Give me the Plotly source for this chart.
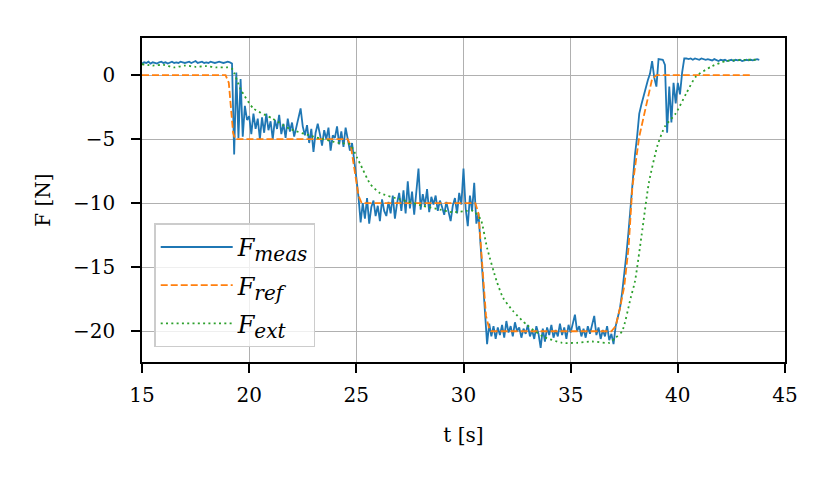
import plotly.graph_objects as go

# ---- data ----
t0_meas = 15.0
dt_meas = 0.1
f_meas_rows = [
    [0.9, 1.0, 0.95, 1.05, 0.9, 1.0, 0.95, 0.9, 1.0, 1.05],          # 15
    [0.95, 1.0, 0.9, 1.0, 1.05, 0.95, 1.0, 0.95, 1.05, 1.0],         # 16
    [0.95, 1.0, 1.05, 0.95, 1.0, 1.1, 0.95, 1.0, 1.05, 0.95],        # 17
    [1.0, 0.95, 1.05, 1.0, 0.95, 1.0, 1.05, 1.0, 0.95, 1.0],         # 18
    [1.05, 1.0, 0.9, -6.2, 0.2, -4.9, -0.3, -4.8, -2.4, -3.5],       # 19
    [-3.2, -4.6, -3.0, -4.2, -3.4, -5.0, -3.3, -4.5, -3.0, -4.3],    # 20
    [-3.6, -5.0, -3.5, -4.2, -3.1, -4.6, -3.8, -4.9, -3.4, -4.4],    # 21
    [-3.7, -4.8, -4.1, -3.2, -2.6, -4.0, -4.7, -3.9, -5.3, -4.2],    # 22
    [-6.0, -4.5, -3.8, -4.6, -5.5, -4.3, -5.0, -4.1, -5.9, -4.7],    # 23
    [-4.9, -4.0, -5.4, -4.4, -5.6, -4.1, -5.0, -5.9, -5.3, -6.5],    # 24
    [-8.0, -9.5, -11.5, -10.0, -11.2, -9.6, -11.6, -10.3, -9.8, -11.0],  # 25
    [-10.2, -11.4, -9.7, -10.6, -11.0, -9.9, -10.8, -9.4, -11.2, -10.0], # 26
    [-9.2, -10.6, -9.0, -10.8, -8.3, -10.4, -9.1, -10.9, -8.8, -7.3],    # 27
    [-10.5, -9.3, -10.2, -8.9, -10.7, -9.5, -10.1, -9.4, -10.6, -9.8],   # 28
    [-10.3, -10.9, -9.9, -10.6, -11.4, -10.2, -9.6, -10.8, -9.2, -10.1], # 29
    [-7.3, -10.4, -11.8, -9.4, -10.6, -8.4, -11.6, -10.8, -13.5, -15.5], # 30
    [-18.5, -21.0, -19.4, -20.4, -19.6, -20.6, -19.7, -20.3, -19.5, -20.5], # 31
    [-19.2, -20.1, -19.6, -20.4, -19.3, -20.0, -19.7, -20.5, -19.8, -20.2], # 32
    [-19.5, -20.4, -19.9, -20.6, -19.6, -20.2, -21.3, -19.8, -20.8, -19.7], # 33
    [-20.3, -19.5, -20.5, -19.9, -20.4, -19.4, -20.3, -19.7, -20.6, -19.5], # 34
    [-20.1, -19.3, -18.7, -20.0, -19.6, -20.4, -19.8, -20.5, -19.6, -20.2], # 35
    [-19.5, -18.8, -20.3, -19.7, -20.6, -19.9, -20.4, -19.6, -20.7, -20.2], # 36
    [-21.0, -19.6, -18.9, -18.2, -17.0, -15.6, -14.0, -12.2, -10.0, -8.0],  # 37
    [-6.2, -4.8, -3.0, -2.3, -1.6, -1.1, -0.4, 0.1, 1.1, -0.2],            # 38
    [-0.9, 1.25, 1.2, 1.2, 0.8, -4.5, -0.9, -3.7, -0.6, -2.2],             # 39
    [-0.6, -1.5, 0.2, 1.3, 1.3, 1.25, 1.3, 1.2, 1.3, 1.25],                # 40
    [1.2, 1.3, 1.25, 1.2, 1.25, 1.2, 1.15, 1.25, 1.2, 1.1],                # 41
    [1.2, 1.15, 1.2, 1.1, 1.15, 1.2, 1.1, 1.2, 1.15, 1.2],                 # 42
    [1.1, 1.15, 1.2, 1.15, 1.2, 1.15, 1.2, 1.25, 1.2],                     # 43
]
f_meas = [v for row in f_meas_rows for v in row]
t_meas = [round(t0_meas + dt_meas * i, 2) for i in range(len(f_meas))]

t_ref = [15.0, 18.9, 19.05, 19.25, 19.35, 24.6, 24.75, 25.1, 25.25, 30.55, 30.7,
         31.05, 31.2, 31.3, 36.9, 37.1, 37.3, 37.5, 37.7, 37.88, 38.2, 38.53, 38.8,
         39.0, 43.45]
f_ref = [0, 0, -0.6, -4.5, -5, -5, -5.6, -9.4, -10, -10, -10.8,
         -18.8, -19.8, -20, -20, -19.6, -18.2, -16.5, -13.5, -8.7, -4.8, -2.2, -0.3,
         0, 0]

t_ext = [15.0, 15.5, 16.0, 16.5, 17.0, 17.5, 18.0, 18.5, 19.0, 19.2, 19.6, 20.2, 21.1,
         21.9, 23.0, 24.2, 24.7, 25.05, 25.2, 25.65, 26.1, 27.05, 28.1, 28.9, 29.5,
         30.15, 30.45, 30.8, 31.1, 31.55, 31.85, 32.3, 32.95, 33.7, 34.6, 35.3, 36.0,
         36.8, 37.1, 37.4, 37.8, 38.0, 38.35, 38.65, 39.05, 39.4, 39.9, 40.4, 40.85,
         41.6, 42.25, 43.2, 43.8]
f_ext = [0.85, 0.75, 0.8, 0.6, 0.75, 0.65, 0.7, 0.6, 0.6, 0.5, -1.1, -2.6, -3.4,
         -4.2, -4.8, -5.3, -5.4, -6.5, -7.0, -8.5, -9.2, -9.7, -10.2, -10.5, -10.7,
         -10.6, -10.6, -11.25, -13.5, -16.1, -17.4, -18.4, -19.5, -20.4, -20.9, -20.9, -20.8,
         -20.9, -20.5, -20.0, -17.4, -16.1, -12.0, -8.4, -5.5, -4.0, -3.0, -1.4, -0.1,
         0.7, 1.1, 1.2, 1.2]

x_ticks = [15, 20, 25, 30, 35, 40, 45]
y_ticks = [0, -5, -10, -15, -20]

FONT = "DejaVu Serif"
FS = 20


def leg_name(sub):
    return ("<i>F</i><sub><span style='font-size:20px'><i>%s</i></span></sub>" % sub)


fig = go.Figure()
fig.add_trace(go.Scatter(x=t_meas, y=f_meas, mode="lines",
                         name=leg_name("meas"), legendgroup="a",
                         line=dict(color="#1f77b4", width=1.8)))
fig.add_trace(go.Scatter(x=t_ref, y=f_ref, mode="lines",
                         name=leg_name("ref"), legendgroup="b",
                         line=dict(color="#ff7f0e", width=1.8, dash="7px,3px")))
fig.add_trace(go.Scatter(x=t_ext, y=f_ext, mode="lines",
                         name=leg_name("ext"), legendgroup="c",
                         line=dict(color="#2ca02c", width=1.8, dash="2px,3.3px",
                                   shape="spline", smoothing=0.6)))

axis_common = dict(showline=True, mirror=True, linecolor="black", linewidth=1.5,
                   showgrid=True, gridcolor="#b0b0b0", gridwidth=1.4,
                   zeroline=False, ticks="outside", ticklen=9, tickwidth=1.5,
                   tickcolor="black", tickfont=dict(family=FONT, size=FS, color="black"))

fig.update_xaxes(range=[15, 45], tickvals=x_ticks,
                 title=dict(text="t [s]", font=dict(family=FONT, size=FS, color="black"),
                            standoff=22),
                 ticklabelstandoff=5,
                 **axis_common)
fig.update_yaxes(range=[-22.4, 2.9], tickvals=y_ticks,
                 title=dict(text="F [N]", font=dict(family=FONT, size=FS, color="black"),
                            standoff=17),
                 ticklabelstandoff=12,
                 **axis_common)

fig.update_layout(
    width=829, height=477,
    margin=dict(l=134, r=52, t=30, b=123),
    paper_bgcolor="white", plot_bgcolor="white",
    font=dict(family=FONT, size=FS, color="black"),
    showlegend=True,
    legend=dict(x=0.019, y=0.045, xanchor="left", yanchor="bottom",
                bgcolor="rgba(255,255,255,0.8)", bordercolor="#cccccc", borderwidth=1.5,
                font=dict(family=FONT, size=24, color="black"),
                itemwidth=72, tracegroupgap=4),
)

fig.write_html("out.html")
